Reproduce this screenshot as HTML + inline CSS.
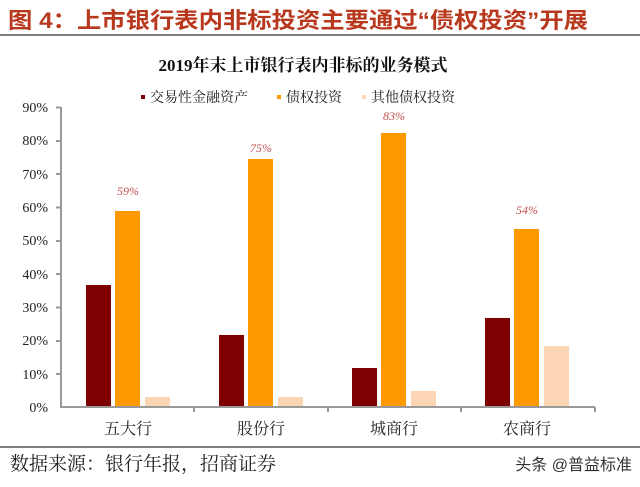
<!DOCTYPE html>
<html><head><meta charset="utf-8"><style>
body{margin:0;width:640px;height:482px;background:#fff;overflow:hidden}
.s{font-family:"Liberation Serif","Noto Serif CJK SC","Noto Serif CJK SC",serif}
.h{font-family:"Liberation Sans","Noto Sans CJK SC",sans-serif}
</style></head><body>
<svg width="640" height="482" xmlns="http://www.w3.org/2000/svg" class="s">
<text x="8" y="28" class="h" font-size="22" font-weight="bold" fill="#b8381e" textLength="580" lengthAdjust="spacingAndGlyphs">图 4：上市银行表内非标投资主要通过“债权投资”开展</text>
<line x1="0" y1="35" x2="640" y2="35" stroke="#555" stroke-width="1.5"/>
<text x="303" y="71" class="s" font-size="17" font-weight="bold" text-anchor="middle" fill="#111">2019年末上市银行表内非标的业务模式</text>
<rect x="141" y="95" width="4" height="4" fill="#7f0000"/><text x="150" y="102" class="s" font-size="14" fill="#222">交易性金融资产</text>
<rect x="277" y="95" width="4" height="4" fill="#ff9900"/><text x="286" y="102" class="s" font-size="14" fill="#222">债权投资</text>
<rect x="362" y="95" width="4" height="4" fill="#fcd5b5"/><text x="371" y="102" class="s" font-size="14" fill="#222">其他债权投资</text>
<g font-size="14" fill="#222" text-anchor="end" class="s">
<text x="48" y="112">90%</text><text x="48" y="145">80%</text><text x="48" y="179">70%</text><text x="48" y="212">60%</text><text x="48" y="245">50%</text><text x="48" y="279">40%</text><text x="48" y="312">30%</text><text x="48" y="345">20%</text><text x="48" y="379">10%</text><text x="48" y="412">0%</text>
</g>
<g stroke="#999" stroke-width="2">
<line x1="61" y1="107" x2="61" y2="408"/>
<line x1="61" y1="407" x2="595" y2="407"/>
<line x1="56" y1="107.5" x2="61" y2="107.5"/><line x1="56" y1="141" x2="61" y2="141"/><line x1="56" y1="174" x2="61" y2="174"/><line x1="56" y1="207.5" x2="61" y2="207.5"/><line x1="56" y1="241" x2="61" y2="241"/><line x1="56" y1="274" x2="61" y2="274"/><line x1="56" y1="307.5" x2="61" y2="307.5"/><line x1="56" y1="341" x2="61" y2="341"/><line x1="56" y1="374" x2="61" y2="374"/>
<line x1="194" y1="407" x2="194" y2="412"/><line x1="328" y1="407" x2="328" y2="412"/><line x1="461" y1="407" x2="461" y2="412"/><line x1="595" y1="407" x2="595" y2="412"/>
</g>
<g fill="#7f0000">
<rect x="86" y="285" width="25" height="121"/><rect x="219" y="335" width="25" height="71"/><rect x="352" y="368" width="25" height="38"/><rect x="485" y="318" width="25" height="88"/>
</g>
<g fill="#ff9900">
<rect x="115" y="211" width="25" height="195"/><rect x="248" y="159" width="25" height="247"/><rect x="381" y="133" width="25" height="273"/><rect x="514" y="229" width="25" height="177"/>
</g>
<g fill="#fcd5b5">
<rect x="145" y="397" width="25" height="9"/><rect x="278" y="397" width="25" height="9"/><rect x="411" y="391" width="25" height="15"/><rect x="544" y="346" width="25" height="60"/>
</g>
<g font-size="12" font-style="italic" fill="#c0504d" text-anchor="middle" class="s">
<text x="128" y="195">59%</text><text x="261" y="152">75%</text><text x="394" y="120">83%</text><text x="527" y="214">54%</text>
</g>
<g font-size="16" fill="#222" text-anchor="middle" class="s">
<text x="128" y="434">五大行</text><text x="261" y="434">股份行</text><text x="394" y="434">城商行</text><text x="527" y="434">农商行</text>
</g>
<line x1="0" y1="447" x2="640" y2="447" stroke="#333" stroke-width="1.2"/>
<text x="10" y="470" class="s" font-size="19" fill="#222">数据来源：银行年报，招商证券</text>
<text x="632" y="470" class="h" font-size="16" fill="#333" text-anchor="end">头条 @普益标准</text>
</svg>
</body></html>
